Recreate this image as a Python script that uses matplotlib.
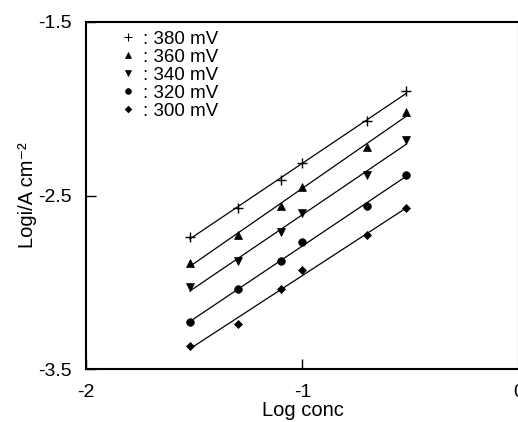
"""
Log current density vs log concentration at several potentials.
"""

import numpy as np
import matplotlib
matplotlib.use("Agg")
import matplotlib.pyplot as plt
from matplotlib.lines import Line2D

plt.rcParams["font.family"] = ["Liberation Sans", "DejaVu Sans"]

# Data
log_conc = [-1.52, -1.30, -1.10, -1.00, -0.70, -0.52]
potentials = ["380 mV", "360 mV", "340 mV", "320 mV", "300 mV"]
logi_380 = [-2.74, -2.57, -2.41, -2.31, -2.07, -1.90]
logi_360 = [-2.89, -2.73, -2.56, -2.45, -2.22, -2.02]
logi_340 = [-3.03, -2.88, -2.71, -2.60, -2.38, -2.18]
logi_320 = [-3.23, -3.04, -2.88, -2.77, -2.56, -2.38]
logi_300 = [-3.37, -3.24, -3.04, -2.93, -2.73, -2.57]

series = [logi_380, logi_360, logi_340, logi_320, logi_300]
markers = [("+", 7), ("^", 6), ("v", 6), ("o", 5.5), ("D", 4.5)]

fig = plt.figure(figsize=(5.18, 4.22), dpi=100)
ax = fig.add_axes([86 / 518, 53 / 422, 433 / 518, 347 / 422])

x = np.array(log_conc)
handles = []
for values, (mk, ms), label in zip(series, markers, potentials):
    y = np.array(values)
    # straight-line fit through each series
    slope, intercept = np.polyfit(x, y, 1)
    xs = np.array([x.min(), x.max()])
    ax.plot(xs, slope * xs + intercept, color="black", lw=0.9)
    ax.plot(x, y, linestyle="none", marker=mk, markersize=ms, color="black",
            markeredgewidth=1.0 if mk == "+" else 0.5)
    handles.append(Line2D([], [], linestyle="none", marker=mk, markersize=ms * 0.75,
                          color="black", markeredgewidth=0.8 if mk == "+" else 0.5,
                          label=": " + label))

ax.set_xlim(-2, 0)
ax.set_ylim(-3.5, -1.5)
ax.set_xticks([-2, -1, 0])
ax.set_xticklabels(["-2", "-1", "0"])
ax.set_yticks([-3.5, -2.5, -1.5])
ax.set_yticklabels(["-3.5", "-2.5", "-1.5"])
ax.tick_params(axis="both", direction="in", length=7, width=1, labelsize=14)
ax.tick_params(axis="x", pad=11)
ax.tick_params(axis="y", pad=10)
for side in ax.spines:
    ax.spines[side].set_linewidth(1.5)

ax.set_xlabel("Log conc", fontsize=14.5, labelpad=0)
ax.set_ylabel("Logi/A cm\u207b\u00b2", fontsize=14.5, labelpad=1)

ax.legend(handles=handles, loc="upper left", bbox_to_anchor=(0.08, 0.975),
          frameon=False, fontsize=13.5, handlelength=0.8, handletextpad=0.4,
          labelspacing=0.05, borderpad=0, borderaxespad=0)

fig.savefig("out.png", dpi=100)
